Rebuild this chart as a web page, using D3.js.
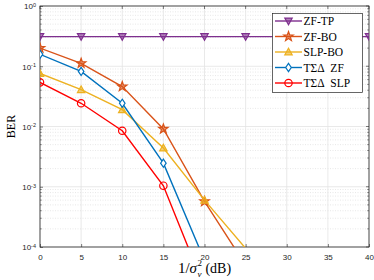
<!DOCTYPE html>
<html>
<head>
<meta charset="utf-8">
<script src="https://cdn.jsdelivr.net/npm/d3@7"></script>
<style>
  body { margin: 0; background: #fff; }
  svg { display: block; }
  .tick text { font-family: "Liberation Sans", Arial, sans-serif; font-size: 8px; fill: #262626; }
</style>
</head>
<body>
<svg id="chart" width="374" height="280"></svg>
<script>
const snr = [0, 5, 10, 15, 20, 25, 30, 35, 40];
const zfTP  = [0.31, 0.31, 0.31, 0.31, 0.31, 0.31, 0.31, 0.31, 0.31];
const zfBO  = [0.2, 0.112, 0.046, 0.0091, 0.00057, 0.00005];
const slpBO = [0.076, 0.041, 0.019, 0.0044, 0.0006, 0.000095];
const tsdZF = [0.158, 0.082, 0.0243, 0.00246, 0.00006];
const tsdSLP = [0.054, 0.0243, 0.0085, 0.00104, 0.000021];

const xTicks = [0, 5, 10, 15, 20, 25, 30, 35, 40];
const yTicks = [1e-4, 1e-3, 1e-2, 1e-1, 1];
const yTickLabels = ["-4", "-3", "-2", "-1", "0"];

const series = [
  {name: "ZF-TP", values: zfTP, color: "#7E2F8E", marker: "tridown", fill: "#7E2F8E"},
  {name: "ZF-BO", values: zfBO, color: "#D95319", marker: "star", fill: "#D95319"},
  {name: "SLP-BO", values: slpBO, color: "#EDB120", marker: "triup", fill: "#EDB120"},
  {name: "T\u03A3\u0394\u00A0 ZF", values: tsdZF, color: "#0072BD", marker: "diamond", fill: "#fff"},
  {name: "T\u03A3\u0394\u00A0 SLP", values: tsdSLP, color: "#FF0000", marker: "circle", fill: "none"}
];

const margin = {top: 6, right: 5, bottom: 33, left: 40};
const W = 374, H = 280;
const svg = d3.select("#chart");
const pw = W - margin.left - margin.right;
const ph = H - margin.top - margin.bottom;

const x = d3.scaleLinear().domain([0, 40]).range([margin.left, margin.left + pw]);
const y = d3.scaleLog().domain([1e-4, 1]).range([margin.top + ph, margin.top]);

svg.append("defs").append("clipPath").attr("id", "clip")
  .append("rect").attr("x", margin.left).attr("y", margin.top).attr("width", pw).attr("height", ph);

// grid
const grid = svg.append("g");
for (let d = -4; d < 0; d++) {
  for (let k = 2; k <= 9; k++) {
    grid.append("line")
      .attr("x1", margin.left).attr("x2", margin.left + pw)
      .attr("y1", y(k * Math.pow(10, d))).attr("y2", y(k * Math.pow(10, d)))
      .attr("stroke", "#d9d9d9").attr("stroke-width", 0.6).attr("stroke-dasharray", "1,1.5");
  }
}
yTicks.forEach(v => grid.append("line")
  .attr("x1", margin.left).attr("x2", margin.left + pw)
  .attr("y1", y(v)).attr("y2", y(v))
  .attr("stroke", "#e3e3e3").attr("stroke-width", 0.8));
xTicks.forEach(v => grid.append("line")
  .attr("x1", x(v)).attr("x2", x(v))
  .attr("y1", margin.top).attr("y2", margin.top + ph)
  .attr("stroke", "#e3e3e3").attr("stroke-width", 0.8));

// axes
const xAxis = svg.append("g").attr("transform", `translate(0,${margin.top + ph})`)
  .call(d3.axisBottom(x).tickValues(xTicks).tickSize(-3).tickPadding(7));
const yAxis = svg.append("g").attr("transform", `translate(${margin.left},0)`)
  .call(d3.axisLeft(y).tickValues(yTicks).tickSize(-3).tickPadding(5).tickFormat(() => ""));
[xAxis, yAxis].forEach(a => {
  a.select(".domain").remove();
  a.selectAll(".tick line").attr("stroke", "#262626").attr("stroke-width", 0.6);
});
yAxis.selectAll(".tick").each(function(d, i) {
  const t = d3.select(this).select("text").attr("x", -4).attr("dy", "0.35em");
  t.append("tspan").text("10");
  t.append("tspan").attr("dy", "-0.45em").attr("font-size", "5.5px").text(yTickLabels[i]);
});
// minor ticks on y
for (let d = -4; d < 0; d++) {
  for (let k = 2; k <= 9; k++) {
    const yy = y(k * Math.pow(10, d));
    svg.append("line").attr("x1", margin.left).attr("x2", margin.left + 1.8)
      .attr("y1", yy).attr("y2", yy).attr("stroke", "#262626").attr("stroke-width", 0.5);
    svg.append("line").attr("x1", margin.left + pw).attr("x2", margin.left + pw - 1.8)
      .attr("y1", yy).attr("y2", yy).attr("stroke", "#262626").attr("stroke-width", 0.5);
  }
}
xTicks.forEach(v => svg.append("line").attr("x1", x(v)).attr("x2", x(v))
  .attr("y1", margin.top).attr("y2", margin.top + 3).attr("stroke", "#262626").attr("stroke-width", 0.6));
yTicks.forEach(v => svg.append("line").attr("x1", margin.left + pw).attr("x2", margin.left + pw - 3)
  .attr("y1", y(v)).attr("y2", y(v)).attr("stroke", "#262626").attr("stroke-width", 0.6));

svg.append("rect").attr("x", margin.left).attr("y", margin.top)
  .attr("width", pw).attr("height", ph)
  .attr("fill", "none").attr("stroke", "#262626").attr("stroke-width", 0.8);

// markers
function drawMarker(g, type, cx, cy, color, fill) {
  const s = 3.7;
  let el;
  if (type === "circle") {
    el = g.append("circle").attr("cx", cx).attr("cy", cy).attr("r", s);
  } else if (type === "tridown") {
    el = g.append("path").attr("d", `M${cx - s},${cy - s * 0.8}L${cx + s},${cy - s * 0.8}L${cx},${cy + s}Z`);
  } else if (type === "triup") {
    el = g.append("path").attr("d", `M${cx - s},${cy + s * 0.8}L${cx + s},${cy + s * 0.8}L${cx},${cy - s}Z`);
  } else if (type === "diamond") {
    el = g.append("path").attr("d", `M${cx},${cy - s * 1.1}L${cx + s * 0.75},${cy}L${cx},${cy + s * 1.1}L${cx - s * 0.75},${cy}Z`);
  } else {
    const pts = [];
    for (let i = 0; i < 10; i++) {
      const r = i % 2 === 0 ? s * 1.35 : s * 0.55;
      const a = -Math.PI / 2 + i * Math.PI / 5;
      pts.push([cx + r * Math.cos(a), cy + r * Math.sin(a)]);
    }
    el = g.append("path").attr("d", "M" + pts.join("L") + "Z");
  }
  el.attr("fill", fill).attr("fill-opacity", fill === "none" || fill === "#fff" ? 1 : 0.6)
    .attr("stroke", color).attr("stroke-width", 1.2);
}

const plot = svg.append("g").attr("clip-path", "url(#clip)");
const line = d3.line().x((d, i) => x(snr[i])).y(d => y(d));
series.forEach(s => {
  plot.append("path").datum(s.values).attr("d", line)
    .attr("fill", "none").attr("stroke", s.color).attr("stroke-width", 1.4);
});
series.forEach(s => {
  const g = plot.append("g");
  s.values.forEach((v, i) => {
    if (v >= 1e-4) drawMarker(g, s.marker, x(snr[i]), y(v), s.color, s.fill);
  });
});

// legend
const lg = svg.append("g");
lg.append("rect").attr("x", 272.5).attr("y", 13.5).attr("width", 90).attr("height", 79)
  .attr("fill", "#fff").attr("stroke", "#262626").attr("stroke-width", 0.7);
series.forEach((s, i) => {
  const ly = 21 + i * 15.5;
  lg.append("line").attr("x1", 275).attr("x2", 302).attr("y1", ly).attr("y2", ly)
    .attr("stroke", s.color).attr("stroke-width", 1.4);
  drawMarker(lg, s.marker, 288.5, ly, s.color, s.fill);
  lg.append("text").attr("x", 303.5).attr("y", ly).attr("dy", "0.35em")
    .attr("font-family", "'Liberation Serif', 'DejaVu Serif', serif").attr("font-size", "11.5px")
    .attr("fill", "#000").text(s.name);
});

// axis labels
svg.append("text").attr("transform", `translate(11,${margin.top + ph / 2}) rotate(-90)`)
  .attr("text-anchor", "middle").attr("dy", "0.35em")
  .attr("font-family", "'Liberation Serif', serif").attr("font-size", "12px").text("BER");

// x label: 1/σ_v^2 (dB), sub/superscript stacked
const serif = "'Liberation Serif', serif";
const xlG = svg.append("g");
const p1 = xlG.append("text").attr("y", 273).attr("font-family", serif).attr("font-size", "15px");
p1.append("tspan").text("1/");
p1.append("tspan").attr("font-style", "italic").text("\u03C3");
const w1 = p1.node().getComputedTextLength();
const sup = xlG.append("text").attr("y", 265.5).attr("font-family", serif).attr("font-size", "9px").text("2");
const sub = xlG.append("text").attr("y", 276.5).attr("font-family", serif).attr("font-size", "9px")
  .attr("font-style", "italic").text("v");
const p2 = xlG.append("text").attr("y", 273).attr("font-family", serif).attr("font-size", "14px").text("\u00A0(dB)");
const wS = Math.max(sup.node().getComputedTextLength(), sub.node().getComputedTextLength());
const total = w1 + 0.5 + wS + p2.node().getComputedTextLength();
const x0 = x(20) - total / 2;
p1.attr("x", x0);
sup.attr("x", x0 + w1 + 0.5);
sub.attr("x", x0 + w1 + 0.5);
p2.attr("x", x0 + w1 + 0.5 + wS);
</script>
</body>
</html>
